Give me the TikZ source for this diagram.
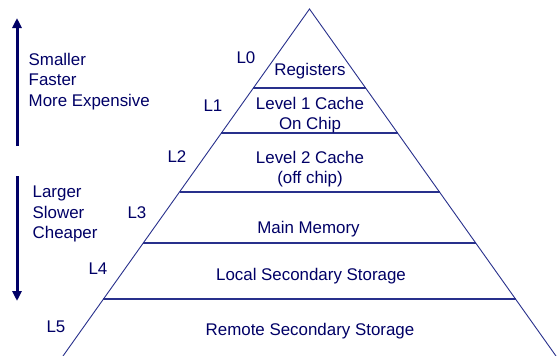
\documentclass[tikz,border=0pt]{standalone}
\usepackage{fontspec}
\setmainfont{Liberation Sans}
\usetikzlibrary{arrows.meta}
\definecolor{pyrline}{RGB}{40,48,140}
\definecolor{pyrtext}{RGB}{0,0,102}

\begin{document}
\begin{tikzpicture}[x=1pt,y=-1pt, %One unit is one pixel of the 560 by 356 picture, y runs downwards
  lvltext/.style={text=pyrtext,font=\fontsize{16.9}{20.5}\selectfont,inner sep=0pt,align=center},
  sidetext/.style={lvltext,align=left},
  bigarrow/.style={draw=pyrtext,line width=3pt,-{Triangle[length=10pt,width=9pt]}}]
\useasboundingbox (0,0) rectangle (560,356); %Fixes the size of the picture
\fill[white] (0,0) rectangle (560,356); %White background
%Pyramid outline
\coordinate (apex) at (309.5,9);
\coordinate (baseL) at (63,356);
\coordinate (baseR) at (556,356);
\draw[pyrline,line width=0.9pt] (baseL)--(apex)--(baseR);
%Level dividers, ends computed on the two sides of the pyramid
\foreach \y in {88,133,192,243,299}
  \draw[pyrline,line width=1.2pt] ({309.5-(\y-9)/347*246.5},\y)--({309.5+(\y-9)/347*246.5},\y);
%Contents of the levels
\node[lvltext,anchor=base] (reg) at (310,75) {Registers};
\node[lvltext,anchor=north] (cacheA) at (310,97) {Level 1 Cache\\On Chip};
\node[lvltext,anchor=north] (cacheB) at (310,151) {Level 2 Cache\\(off chip)};
\node[lvltext,anchor=base] (mem) at (308.5,233) {Main Memory};
\node[lvltext,anchor=base] (local) at (311,280) {Local Secondary Storage};
\node[lvltext,anchor=base] (remote) at (310,335) {Remote Secondary Storage};
%Level names along the left side
\node[lvltext,anchor=base] (lzero) at (246,63) {L0};
\node[lvltext,anchor=base] (lone) at (213,111) {L1};
\node[lvltext,anchor=base] (ltwo) at (177,162) {L2};
\node[lvltext,anchor=base] (lthree) at (137,218) {L3};
\node[lvltext,anchor=base] (lfour) at (98,274) {L4};
\node[lvltext,anchor=base] (lfive) at (56,332) {L5};
%Arrows and their captions
\coordinate (upfrom) at (17,146);
\coordinate (upto) at (17,18);
\coordinate (downfrom) at (17,176);
\coordinate (downto) at (17,301);
\draw[bigarrow] (upfrom)--(upto); %Towards the top of the pyramid
\draw[bigarrow] (downfrom)--(downto); %Towards the bottom of the pyramid
\node[sidetext,anchor=north west] (upnote) at (28.5,53) {Smaller\\Faster\\More Expensive};
\node[sidetext,anchor=north west] (downnote) at (32.5,186) {Larger\\Slower\\Cheaper};
\end{tikzpicture}
\end{document}
